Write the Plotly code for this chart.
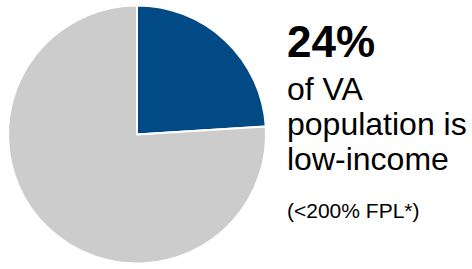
import plotly.graph_objects as go

labels = ["Low-income (<200% FPL)", "Other"]
values = [24, 76]
colors = ["#024A86", "#CCCCCC"]

headline = "24%"
lines = ["of VA", "population is", "low-income"]
footnote = "(<200% FPL*)"

W, H = 472, 269
FONT = "Arial, 'Liberation Sans', sans-serif"

fig = go.Figure(go.Pie(
    labels=labels, values=values, sort=False, direction="clockwise", rotation=0,
    marker=dict(colors=colors, line=dict(color="white", width=2)),
    textinfo="none", hoverinfo="label+percent", showlegend=False,
    domain=dict(x=[8 / W, 266 / W], y=[5 / H, 264 / H]),
))

def add_line(text, baseline, size, bold=False):
    mid = baseline - 0.3465 * size
    fig.add_annotation(
        text=f"<b>{text}</b>" if bold else text,
        x=285 / W, y=1 - mid / H, xref="paper", yref="paper",
        xanchor="left", yanchor="middle", showarrow=False,
        font=dict(family=FONT, size=size, color="black"),
    )

add_line(headline, 57, 44, bold=True)
for t, b in zip(lines, [100, 135, 170]):
    add_line(t, b, 32)
add_line(footnote, 218, 21)

fig.update_layout(
    width=W, height=H, margin=dict(l=0, r=0, t=0, b=0),
    paper_bgcolor="white", plot_bgcolor="white",
)
fig.write_html(
    "out.html",
    config={"displayModeBar": False},
    post_script="document.body.style.margin='0';document.body.style.overflow='hidden';",
)
